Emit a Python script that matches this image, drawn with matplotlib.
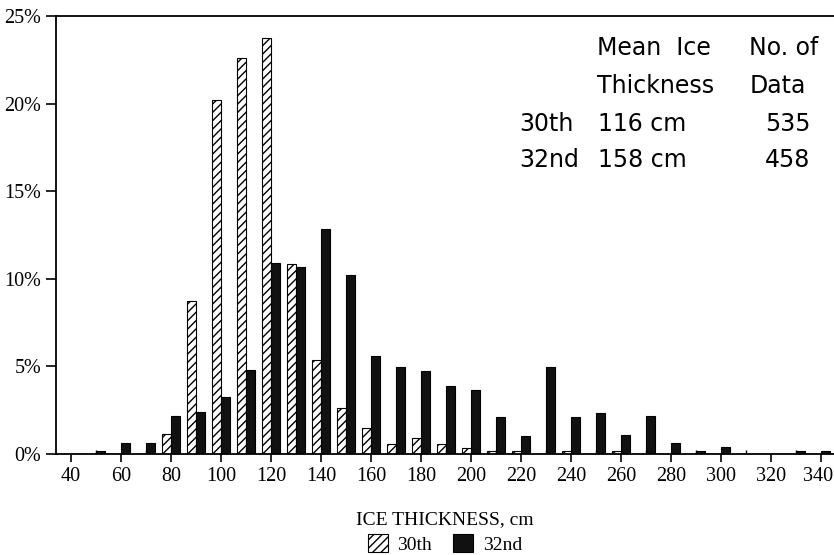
import numpy as np
import matplotlib.pyplot as plt
import matplotlib.transforms as mtransforms
from matplotlib.ticker import MultipleLocator, FuncFormatter

# ice thickness bins (cm) and frequency (%)
bins = list(range(50, 350, 10))
pct_30th = [0, 0, 0, 1.12, 8.75, 20.2, 22.62, 23.76, 10.83, 5.37,
            2.61, 1.50, 0.55, 0.91, 0.55, 0.36, 0.19, 0.19, 0, 0.17,
            0, 0.17, 0, 0, 0, 0, 0, 0, 0, 0]
pct_32nd = [0.19, 0.65, 0.65, 2.17, 2.38, 3.24, 4.78, 10.9, 10.69, 12.82,
            10.22, 5.61, 4.98, 4.76, 3.88, 3.65, 2.13, 1.05, 4.95, 2.13,
            2.36, 1.08, 2.17, 0.65, 0.19, 0.42, 0, 0, 0.19, 0.19]

series_names = ['30th', '32nd']
table_header = [('Mean  Ice', 'No. of'), ('Thickness', 'Data')]
table_rows = [('30th', '116 cm', '535'), ('32nd', '158 cm', '458')]

plt.rcParams['hatch.linewidth'] = 1.0
serif = 'Liberation Serif'

W, H = 834, 555
fig = plt.figure(figsize=(W / 100, H / 100), dpi=100)
ax = fig.add_axes([56 / W, 101 / H, 778 / W, 438 / H])

bw = 3.6
b1 = ax.bar(bins, pct_30th, width=-bw, align='edge', color='white',
            edgecolor='black', linewidth=0.8, hatch='////', label=series_names[0])
b2 = ax.bar(bins, pct_32nd, width=bw, align='edge', color='#111111',
            edgecolor='black', linewidth=0.8, label=series_names[1])

ax.set_xlim(34, 345.2)
ax.set_ylim(0, 25)
ax.xaxis.set_major_locator(MultipleLocator(20))
ax.xaxis.set_minor_locator(MultipleLocator(10))
ax.yaxis.set_major_locator(MultipleLocator(5))
ax.yaxis.set_major_formatter(FuncFormatter(lambda v, p: f'{v:.0f}%'))

ax.tick_params(axis='x', which='major', direction='out', length=6, width=1.2, pad=3.5)
ax.tick_params(axis='x', which='minor', direction='in', length=3, width=1.0)
ax.tick_params(axis='y', which='major', direction='out', length=7, width=1.2, pad=3.5)
for lab in ax.get_xticklabels() + ax.get_yticklabels():
    lab.set_fontfamily(serif)
    lab.set_fontsize(14.5)

# the last x label sits right at the figure edge; nudge it in a little
fig.canvas.draw()
last = [t for t in ax.get_xticklabels() if t.get_text() == '340']
for t in last:
    t.set_transform(t.get_transform() + mtransforms.ScaledTranslation(-3 / 100, 0, fig.dpi_scale_trans))

ax.spines['right'].set_visible(False)
for s in ['left', 'top', 'bottom']:
    ax.spines[s].set_linewidth(1.3)

ax.set_xlabel('ICE THICKNESS, cm', fontfamily=serif, fontsize=14, va='center')
ax.xaxis.set_label_coords(0.5, -(520 - 454) / 438)

ax.legend(loc='center', bbox_to_anchor=(0.5, -(544 - 454) / 438), ncol=2,
          frameon=False, prop={'family': serif, 'size': 14},
          handlelength=1.0, handleheight=1.0, handletextpad=0.5,
          columnspacing=1.1, borderpad=0)

# summary table in the upper right
def put(x, y, s):
    fig.text(x / W, 1 - y / H, s, fontsize=17, family='DejaVu Sans', va='baseline')

put(597, 55, table_header[0][0])
put(749, 55, table_header[0][1])
put(597, 93, table_header[1][0])
put(750, 93, table_header[1][1])
for (name, mean, n), yb in zip(table_rows, [131, 167]):
    put(519, yb, name)
    put(598, yb, mean)
    put(765, yb, n)

fig.savefig('out.png', dpi=100)
